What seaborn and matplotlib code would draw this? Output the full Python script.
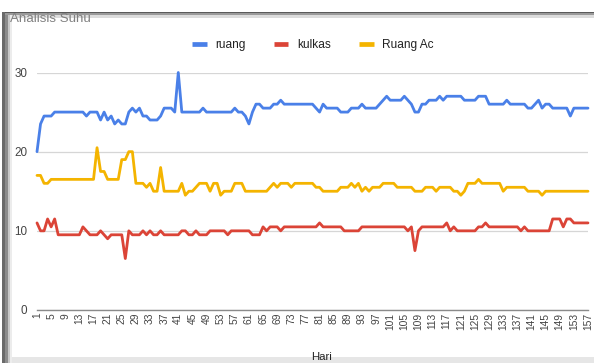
import matplotlib
matplotlib.use("Agg")
import matplotlib.pyplot as plt
from matplotlib.patches import Rectangle
from matplotlib.lines import Line2D
import seaborn as sns
import pandas as pd
import numpy as np

# ---------------- data ----------------
days = list(range(1, 158))
tick_days = list(range(1, 158, 4))

ruang = [
    20, 23.5, 24.5, 24.5, 24.5, 25, 25, 25, 25, 25,
    25, 25, 25, 25, 24.5, 25, 25, 25, 24, 25,
    24, 24.5, 23.5, 24, 23.5, 23.5, 25, 25.5, 25, 25.5,
    24.5, 24.5, 24, 24, 24, 24.5, 25.5, 25.5, 25.5, 25,
    30, 25, 25, 25, 25, 25, 25, 25.5, 25, 25,
    25, 25, 25, 25, 25, 25, 25.5, 25, 25, 24.5,
    23.5, 25, 26, 26, 25.5, 25.5, 25.5, 26, 26, 26.5,
    26, 26, 26, 26, 26, 26, 26, 26, 26, 25.5,
    25, 26, 25.5, 25.5, 25.5, 25.5, 25, 25, 25, 25.5,
    25.5, 25.5, 26, 25.5, 25.5, 25.5, 25.5, 26, 26.5, 27,
    26.5, 26.5, 26.5, 26.5, 27, 26.5, 26, 25, 25, 26,
    26, 26.5, 26.5, 26.5, 27, 26.5, 27, 27, 27, 27,
    27, 26.5, 26.5, 26.5, 26.5, 27, 27, 27, 26, 26,
    26, 26, 26, 26.5, 26, 26, 26, 26, 26, 25.5,
    25.5, 26, 26.5, 25.5, 26, 26, 25.5, 25.5, 25.5, 25.5,
    25.5, 24.5, 25.5, 25.5, 25.5, 25.5, 25.5,
]

kulkas = [
    11, 10, 10, 11.5, 10.5, 11.5, 9.5, 9.5, 9.5, 9.5,
    9.5, 9.5, 9.5, 10.5, 10, 9.5, 9.5, 9.5, 10, 9.5,
    9, 9.5, 9.5, 9.5, 9.5, 6.5, 10, 9.5, 9.5, 9.5,
    10, 9.5, 10, 9.5, 9.5, 10, 9.5, 9.5, 9.5, 9.5,
    9.5, 10, 10, 9.5, 9.5, 10, 9.5, 9.5, 9.5, 10,
    10, 10, 10, 10, 9.5, 10, 10, 10, 10, 10,
    10, 9.5, 9.5, 9.5, 10.5, 10, 10.5, 10.5, 10.5, 10,
    10.5, 10.5, 10.5, 10.5, 10.5, 10.5, 10.5, 10.5, 10.5, 10.5,
    11, 10.5, 10.5, 10.5, 10.5, 10.5, 10.5, 10, 10, 10,
    10, 10, 10.5, 10.5, 10.5, 10.5, 10.5, 10.5, 10.5, 10.5,
    10.5, 10.5, 10.5, 10.5, 10.5, 10, 10.5, 7.5, 10, 10.5,
    10.5, 10.5, 10.5, 10.5, 10.5, 10.5, 11, 10, 10.5, 10,
    10, 10, 10, 10, 10, 10.5, 10.5, 11, 10.5, 10.5,
    10.5, 10.5, 10.5, 10.5, 10.5, 10.5, 10.5, 10, 10.5, 10,
    10, 10, 10, 10, 10, 10, 11.5, 11.5, 11.5, 10.5,
    11.5, 11.5, 11, 11, 11, 11, 11,
]

ruang_ac = [
    17, 17, 16, 16, 16.5, 16.5, 16.5, 16.5, 16.5, 16.5,
    16.5, 16.5, 16.5, 16.5, 16.5, 16.5, 16.5, 20.5, 17.5, 17.5,
    16.5, 16.5, 16.5, 16.5, 19, 19, 20, 20, 16, 16,
    16, 15.5, 16, 15, 15, 18, 15, 15, 15, 15,
    15, 16, 14.5, 15, 15, 15.5, 16, 16, 16, 15,
    16, 16, 14.5, 15, 15, 15, 16, 16, 16, 15,
    15, 15, 15, 15, 15, 15, 15.5, 16, 15.5, 16,
    16, 16, 15.5, 16, 16, 16, 16, 16, 16, 15.5,
    15.5, 15, 15, 15, 15, 15, 15.5, 15.5, 15.5, 16,
    15.5, 16, 15, 15.5, 15, 15.5, 15.5, 15.5, 16, 16,
    16, 16, 15.5, 15.5, 15.5, 15.5, 15.5, 15, 15, 15,
    15.5, 15.5, 15.5, 15, 15.5, 15.5, 15.5, 15.5, 15, 15,
    14.5, 15, 16, 16, 16, 16.5, 16, 16, 16, 16,
    16, 16, 15, 15.5, 15.5, 15.5, 15.5, 15.5, 15.5, 15,
    15, 15, 15, 14.5, 15, 15, 15, 15, 15, 15,
    15, 15, 15, 15, 15, 15, 15,
]

series_names = ["ruang", "kulkas", "Ruang Ac"]
series_colors = ["#4A80E8", "#DB4437", "#F4B400"]
y_ticks = [0, 10, 20, 30]

df = pd.concat([
    pd.DataFrame({"Hari": days, "Suhu": vals, "Lokasi": name})
    for name, vals in zip(series_names, [ruang, kulkas, ruang_ac])
], ignore_index=True)

# ---------------- style ----------------
sns.set_style("white")
plt.rcParams["font.family"] = ["Liberation Sans", "DejaVu Sans"]

W, H = 594, 363
fig = plt.figure(figsize=(W / 100, H / 100), dpi=100)
fig.patch.set_facecolor("white")

ax_left, ax_right, ax_bottom, ax_top = 37, 588, 310, 72.5
ax = fig.add_axes([ax_left / W, 1 - ax_bottom / H,
                   (ax_right - ax_left) / W, (ax_bottom - ax_top) / H])

sns.lineplot(data=df, x="Hari", y="Suhu", hue="Lokasi",
             hue_order=series_names, palette=series_colors,
             linewidth=2.0, ax=ax, legend=False)
for ln in ax.lines:
    ln.set_clip_on(False)
    ln.set_solid_joinstyle("round")

ax.set_xlim(1, 157)
ax.set_ylim(0, 30)
ax.set_yticks(y_ticks)
ax.set_yticklabels([str(v) for v in y_ticks])
ax.set_xticks(tick_days)
ax.set_xticklabels([str(d) for d in tick_days], rotation=90)
ax.tick_params(axis="y", length=0, pad=7, labelsize=8.4, labelcolor="#444444")
ax.tick_params(axis="x", length=0, pad=2, labelsize=7.4, labelcolor="#444444")
for lbl in ax.get_xticklabels():
    lbl.set_verticalalignment("top")

ax.yaxis.grid(True, color="#d6d6d6", linewidth=0.9)
ax.xaxis.grid(False)
ax.set_axisbelow(True)
for s in ["top", "right", "left"]:
    ax.spines[s].set_visible(False)
ax.spines["bottom"].set_color("#8a8a8a")
ax.spines["bottom"].set_linewidth(1.0)
ax.set_xlabel("")
ax.set_ylabel("")

# legend
handles = [Line2D([0], [0], color=c, lw=3.4, solid_capstyle="butt") for c in series_colors]
fig.legend(handles, series_names, loc="center",
           bbox_to_anchor=(313 / W, 1 - 45 / H), ncol=3, frameon=False,
           fontsize=8.6, handlelength=1.2, handletextpad=0.7,
           columnspacing=2.4, labelcolor="#222222")

# axis title
fig.text(322 / W, 1 - 362 / H, "Hari", ha="center", va="bottom",
         fontsize=8.2, color="#222222", zorder=10)

# screenshot frame decoration
def px_rect(x0, y0, x1, y1, color, z=5):
    fig.add_artist(Rectangle((x0 / W, 1 - y1 / H), (x1 - x0) / W, (y1 - y0) / H,
                             transform=fig.transFigure, color=color, lw=0, zorder=z))

px_rect(5, 12, W, 13.5, "#5a5a5a")
px_rect(5, 13.5, W, 15.5, "#9a9a9a")
px_rect(5, 15.5, W, 18, "#dcdcdc")
px_rect(2, 12, 5, H, "#6a6a6a")
px_rect(5, 15, 7.5, H, "#8c8c8c")
px_rect(7.5, 15, 10, H, "#c8c8c8")
px_rect(10, 15, 12, H, "#ececec")
px_rect(12, 357, W, H, "#e6e6e6", z=1)

fig.text(10 / W, 1 - 18.5 / H, "Analisis Suhu", ha="left", va="center",
         fontsize=9.6, color="#808080", zorder=10)

fig.savefig("out.png", dpi=100)
